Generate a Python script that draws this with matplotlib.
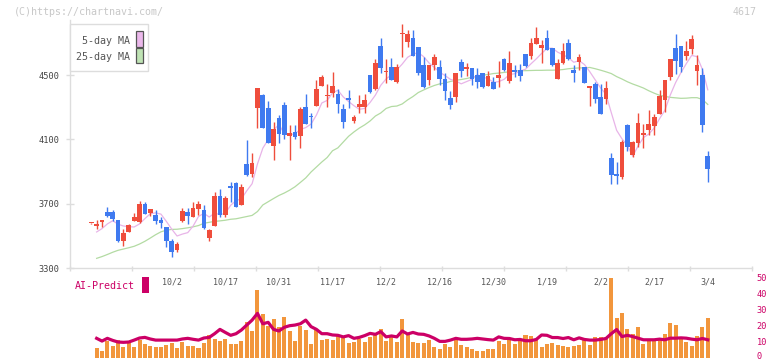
import numpy as np
import matplotlib.pyplot as plt
from matplotlib.patches import Rectangle
from matplotlib.transforms import ScaledTranslation

# daily candles, oldest first (index 15 = 10/2, index 115 = 3/4)
date_labels = ['10/2', '10/17', '10/31', '11/17', '12/2', '12/16',
               '12/30', '1/19', '2/2', '2/17', '3/4']
date_label_idx = [15, 25, 35, 45, 55, 65, 75, 85, 95, 105, 115]

open_ = [
    3578, 3559, 3588, 3650, 3650, 3598, 3470, 3524, 3594, 3588,
    3698, 3640, 3629, 3600, 3555, 3470, 3412, 3592, 3650, 3619,
    3665, 3661, 3485, 3563, 3748, 3631, 3805, 3828, 3694, 3947,
    3886, 4297, 4376, 4297, 4060, 4233, 4313, 4123, 4146, 4123,
    4303, 4247, 4309, 4433, 4369, 4390, 4382, 4290, 4354, 4216,
    4303, 4303, 4500, 4415, 4680, 4517, 4550, 4458, 4755, 4707,
    4730, 4674, 4560, 4469, 4560, 4550, 4475, 4359, 4361, 4581,
    4540, 4542, 4500, 4512, 4433, 4458, 4483, 4599, 4463, 4529,
    4531, 4631, 4620, 4695, 4668, 4730, 4666, 4475, 4575, 4699,
    4531, 4581, 4550, 4422, 4444, 4361, 4351, 3982, 3884, 3868,
    4189, 4003, 4079, 4129, 4160, 4185, 4259, 4346, 4489, 4668,
    4680, 4618, 4662, 4525, 4500, 3996]

high = [
    3580, 3598, 3598, 3681, 3661, 3598, 3542, 3574, 3642, 3717,
    3708, 3667, 3661, 3619, 3555, 3478, 3460, 3671, 3671, 3708,
    3715, 3690, 3545, 3772, 3791, 3748, 3835, 3835, 3822, 4096,
    4015, 4419, 4384, 4338, 4208, 4253, 4334, 4189, 4189, 4303,
    4382, 4266, 4469, 4500, 4444, 4521, 4413, 4320, 4407, 4251,
    4376, 4380, 4500, 4599, 4730, 4598, 4604, 4570, 4817, 4780,
    4780, 4674, 4614, 4562, 4629, 4593, 4510, 4402, 4512, 4601,
    4576, 4542, 4542, 4512, 4525, 4490, 4587, 4608, 4649, 4562,
    4568, 4631, 4732, 4798, 4718, 4780, 4666, 4599, 4699, 4724,
    4562, 4631, 4550, 4424, 4455, 4442, 4461, 4013, 3957, 4096,
    4195, 4090, 4264, 4195, 4282, 4258, 4407, 4469, 4599, 4755,
    4680, 4711, 4749, 4624, 4544, 4027]

low = [
    3576, 3542, 3555, 3619, 3592, 3463, 3439, 3524, 3594, 3578,
    3638, 3625, 3574, 3550, 3429, 3370, 3401, 3586, 3574, 3619,
    3632, 3541, 3470, 3563, 3619, 3619, 3712, 3679, 3694, 3872,
    3868, 4172, 4172, 4075, 3971, 4075, 4104, 3971, 4104, 4048,
    4197, 4172, 4309, 4433, 4303, 4365, 4262, 4172, 4295, 4203,
    4262, 4266, 4390, 4407, 4514, 4448, 4469, 4450, 4614, 4676,
    4618, 4500, 4417, 4438, 4529, 4438, 4345, 4287, 4334, 4489,
    4494, 4438, 4417, 4417, 4433, 4410, 4427, 4525, 4452, 4489,
    4465, 4550, 4599, 4695, 4573, 4655, 4555, 4475, 4568, 4593,
    4458, 4531, 4452, 4309, 4324, 4259, 4320, 3824, 3824, 3855,
    4029, 3990, 4054, 4048, 4127, 4127, 4259, 4272, 4469, 4504,
    4519, 4593, 4631, 4438, 4147, 3835]

close = [
    3578, 3574, 3590, 3625, 3605, 3470, 3516, 3567, 3617, 3698,
    3638, 3667, 3594, 3580, 3470, 3401, 3451, 3654, 3625, 3673,
    3698, 3551, 3536, 3748, 3629, 3735, 3800, 3681, 3804, 3878,
    3953, 4419, 4172, 4075, 4164, 4135, 4127, 4137, 4114, 4290,
    4197, 4239, 4413, 4490, 4371, 4432, 4322, 4208, 4346, 4239,
    4320, 4345, 4396, 4576, 4545, 4521, 4469, 4550, 4759, 4755,
    4618, 4514, 4427, 4562, 4612, 4475, 4402, 4313, 4512, 4525,
    4544, 4475, 4458, 4427, 4494, 4415, 4500, 4531, 4575, 4521,
    4496, 4556, 4699, 4730, 4687, 4655, 4562, 4575, 4649, 4599,
    4512, 4612, 4452, 4424, 4351, 4259, 4417, 3880, 3874, 4083,
    4054, 4083, 4202, 4131, 4195, 4239, 4371, 4469, 4599, 4587,
    4550, 4649, 4724, 4562, 4189, 3916]

ma5 = [
    np.nan, 3524, 3545, 3574, 3594, 3572, 3561, 3557, 3555, 3574,
    3607, 3637, 3643, 3635, 3590, 3542, 3499, 3511, 3520, 3561,
    3620, 3640, 3617, 3641, 3632, 3640, 3690, 3719, 3730, 3780,
    3824, 3947, 4045, 4099, 4157, 4193, 4135, 4128, 4135, 4161,
    4173, 4195, 4251, 4326, 4342, 4389, 4405, 4364, 4335, 4309,
    4287, 4292, 4329, 4375, 4436, 4476, 4501, 4532, 4568, 4610,
    4630, 4639, 4614, 4575, 4547, 4518, 4496, 4473, 4463, 4445,
    4459, 4473, 4502, 4485, 4479, 4454, 4459, 4473, 4503, 4508,
    4525, 4536, 4569, 4600, 4634, 4665, 4667, 4642, 4626, 4608,
    4579, 4589, 4565, 4520, 4470, 4420, 4381, 4266, 4156, 4103,
    4062, 3995, 4059, 4111, 4133, 4170, 4228, 4281, 4375, 4453,
    4515, 4571, 4622, 4614, 4535, 4408]

ma25 = [
    np.nan, 3360, 3371, 3384, 3398, 3410, 3418, 3426, 3435, 3449,
    3466, 3486, 3507, 3525, 3535, 3540, 3541, 3545, 3550, 3556,
    3564, 3578, 3584, 3590, 3593, 3597, 3603, 3606, 3613, 3620,
    3627, 3651, 3692, 3712, 3732, 3751, 3766, 3784, 3805, 3832,
    3860, 3897, 3928, 3959, 3987, 4029, 4047, 4083, 4119, 4146,
    4170, 4190, 4214, 4245, 4264, 4292, 4304, 4307, 4320, 4345,
    4366, 4391, 4407, 4422, 4435, 4445, 4450, 4460, 4467, 4472,
    4478, 4486, 4492, 4499, 4503, 4509, 4512, 4516, 4520, 4525,
    4527, 4527, 4528, 4529, 4529, 4530, 4530, 4531, 4534, 4539,
    4542, 4544, 4544, 4547, 4539, 4530, 4520, 4509, 4490, 4475,
    4458, 4444, 4432, 4419, 4402, 4387, 4374, 4367, 4361, 4358,
    4355, 4356, 4359, 4359, 4348, 4317]

volume = [
    0, 6.3, 4.2, 10.4, 7.3, 10.8, 6.7, 9.0, 6.7, 10.8,
    8.4, 7.3, 6.7, 6.7, 8.0, 9.0, 6.3, 9.8, 7.3, 7.3,
    6.3, 9.0, 14.0, 11.7, 10.4, 11.7, 8.6, 8.6, 10.4, 22.3,
    16.7, 42.3, 27.5, 20.0, 24.3, 19.5, 25.4, 16.7, 10.4, 20.0,
    17.3, 8.6, 17.3, 11.0, 11.7, 11.0, 13.8, 12.3, 9.2, 9.8,
    11.7, 9.8, 13.2, 15.0, 17.9, 10.6, 12.7, 9.8, 24.2, 14.8,
    9.8, 9.2, 9.2, 11.0, 6.7, 5.4, 8.6, 6.7, 11.0, 8.0,
    6.7, 5.4, 4.2, 4.2, 5.4, 5.4, 10.4, 8.6, 11.3, 8.6,
    11.7, 14.2, 13.6, 11.0, 6.7, 8.6, 9.2, 8.0, 7.3, 6.7,
    7.3, 8.0, 11.0, 8.0, 13.0, 13.0, 11.5, 49.6, 25.0, 28.1,
    17.9, 14.8, 19.2, 8.6, 10.4, 11.0, 12.3, 14.8, 21.7, 20.4,
    11.7, 9.8, 7.3, 13.6, 19.2, 25.0]

ai_predict = [
    np.nan, 12.1, 10.4, 12.1, 10.8, 9.8, 9.6, 9.8, 11.0, 12.3,
    12.7, 11.7, 11.0, 11.0, 11.0, 11.0, 11.0, 11.7, 12.1, 11.5,
    11.0, 12.3, 12.7, 15.0, 17.7, 15.8, 14.0, 15.0, 17.3, 20.4,
    23.5, 27.7, 21.2, 22.1, 17.7, 16.7, 19.0, 20.0, 20.4, 21.2,
    23.5, 19.4, 17.7, 15.0, 15.0, 14.2, 14.0, 13.0, 13.8, 12.1,
    12.7, 13.8, 15.2, 14.6, 16.3, 13.0, 13.6, 13.0, 16.7, 14.8,
    15.8, 14.8, 14.6, 13.6, 12.1, 10.2, 10.2, 11.0, 12.1, 11.5,
    11.5, 11.7, 12.1, 11.7, 11.3, 11.0, 13.0, 12.1, 12.0, 11.2,
    11.4, 10.6, 10.6, 11.4, 14.2, 14.0, 12.6, 12.6, 12.0, 12.6,
    11.2, 12.4, 11.4, 11.0, 11.0, 11.4, 12.0, 15.0, 17.6, 13.2,
    14.0, 13.2, 12.2, 11.2, 11.2, 11.2, 11.6, 11.2, 12.2, 12.2,
    12.4, 12.2, 11.6, 11.2, 12.0, 11.2]

price_ticks = [3300, 3700, 4100, 4500]
volume_ticks = [0, 10, 20, 30, 40, 50]

RED = '#ef4d3c'
BLUE = '#3f7af0'
GRID = '#dddddd'
MAGENTA = '#cc0066'
MONO = 'DejaVu Sans Mono'

W, H = 772, 361


def fx(px):
    return px / W


def fy(py):
    return 1 - py / H


fig = plt.figure(figsize=(W / 100, H / 100), dpi=100)
fig.patch.set_facecolor('white')

x = np.arange(len(close))
o = np.array(open_, dtype=float)
c = np.array(close, dtype=float)
hi = np.array(high, dtype=float)
lo = np.array(low, dtype=float)
colors = np.where(c >= o, RED, BLUE)

xmin, xmax = -3.97, 123.25

# volume panel (drawn first, transparent, so date labels stay visible)
ax2 = fig.add_axes([fx(70), fy(357.7), fx(752) - fx(70), fy(277.7) - fy(357.7)])
ax2.set_facecolor('none')
ax2.set_xlim(xmin, xmax)
ax2.set_ylim(0, 50)
ax2.bar(x, volume, width=0.75, color='#f2963c', lw=0)
ax2.plot(x, ai_predict, color=MAGENTA, lw=2.3, solid_joinstyle='round')
for s in ax2.spines.values():
    s.set_visible(False)
ax2.set_xticks([])
ax2.yaxis.tick_right()
ax2.set_yticks(volume_ticks)
ax2.set_yticklabels([str(t) for t in volume_ticks], family=MONO,
                    fontsize=6.2, color=MAGENTA)
ax2.tick_params(axis='y', length=0, pad=3.4)
zero_lab = ax2.get_yticklabels()[0]
zero_lab.set_va('baseline')
zero_lab.set_transform(zero_lab.get_transform() +
                       ScaledTranslation(0, -1 / 100, fig.dpi_scale_trans))

# price panel
ax = fig.add_axes([fx(70), fy(268), fx(752) - fx(70), fy(20) - fy(268)])
ax.set_facecolor('none')
ax.set_xlim(xmin, xmax)
ax.set_ylim(3300, 4842)

ax.plot(x, ma25, color='#b3dba3', lw=0.9, zorder=1)
ax.plot(x, ma5, color='#e8b4e8', lw=0.9, zorder=1)
ax.vlines(x, lo, hi, colors=colors, lw=1.0, zorder=2)
body_h = np.maximum(np.abs(c - o), 8)
ax.bar(x, body_h, bottom=np.minimum(o, c), width=0.88, color=colors,
       lw=0, zorder=3)

for s in ['top', 'right']:
    ax.spines[s].set_visible(False)
for s in ['left', 'bottom']:
    ax.spines[s].set_color(GRID)
    ax.spines[s].set_linewidth(1)

ax.set_yticks(price_ticks)
ax.set_yticklabels([str(t) for t in price_ticks], family=MONO,
                   fontsize=6.2, color='#444444')
ax.tick_params(axis='y', direction='inout', length=5.8, width=1,
               color=GRID, pad=4.6)
ax.set_xticks(np.linspace(xmin, xmax, 12))
ax.set_xticklabels([])
ax.tick_params(axis='x', direction='inout', length=3.6, width=1, color=GRID)

for pos, lab in zip(date_label_idx, date_labels):
    ax.text(pos, -0.056, lab, transform=ax.get_xaxis_transform(),
            ha='center', va='center', family=MONO, fontsize=6.0,
            color='#555555', clip_on=False)

# legend box
fig.add_artist(Rectangle((fx(70), fy(71)), fx(148) - fx(70), fy(24) - fy(71),
                         transform=fig.transFigure, facecolor='white',
                         edgecolor=GRID, lw=1, zorder=5))
fig.add_artist(Rectangle((fx(136), fy(46.7)), fx(142.7) - fx(136),
                         fy(31) - fy(46.7), transform=fig.transFigure,
                         facecolor='#ebb8eb', edgecolor='#555555', lw=0.9,
                         zorder=6))
fig.add_artist(Rectangle((fx(136), fy(63.3)), fx(142.7) - fx(136),
                         fy(48.3) - fy(63.3), transform=fig.transFigure,
                         facecolor='#bfe3b4', edgecolor='#555555', lw=0.9,
                         zorder=6))
fig.text(fx(129.5), fy(40.7), '5-day MA', ha='right', va='center',
         family=MONO, fontsize=7.2, color='#555555', zorder=6)
fig.text(fx(129.5), fy(57.3), '25-day MA', ha='right', va='center',
         family=MONO, fontsize=7.2, color='#555555', zorder=6)

# header texts
fig.text(fx(14), fy(12.3), '(C)https://chartnavi.com/', ha='left',
         va='center', family=MONO, fontsize=7.2, color='#c8c8c8')
fig.text(fx(757), fy(12), '4617', ha='right', va='center', family=MONO,
         fontsize=7.2, color='#c8c8c8')

# AI-Predict label
fig.text(fx(75.3), fy(286), 'AI-Predict', ha='left', va='center',
         family=MONO, fontsize=7.2, color=MAGENTA)
fig.add_artist(Rectangle((fx(142), fy(292.7)), fx(149) - fx(142),
                         fy(276.7) - fy(292.7), transform=fig.transFigure,
                         facecolor=MAGENTA, edgecolor='none'))

fig.savefig('out.png', dpi=100)
